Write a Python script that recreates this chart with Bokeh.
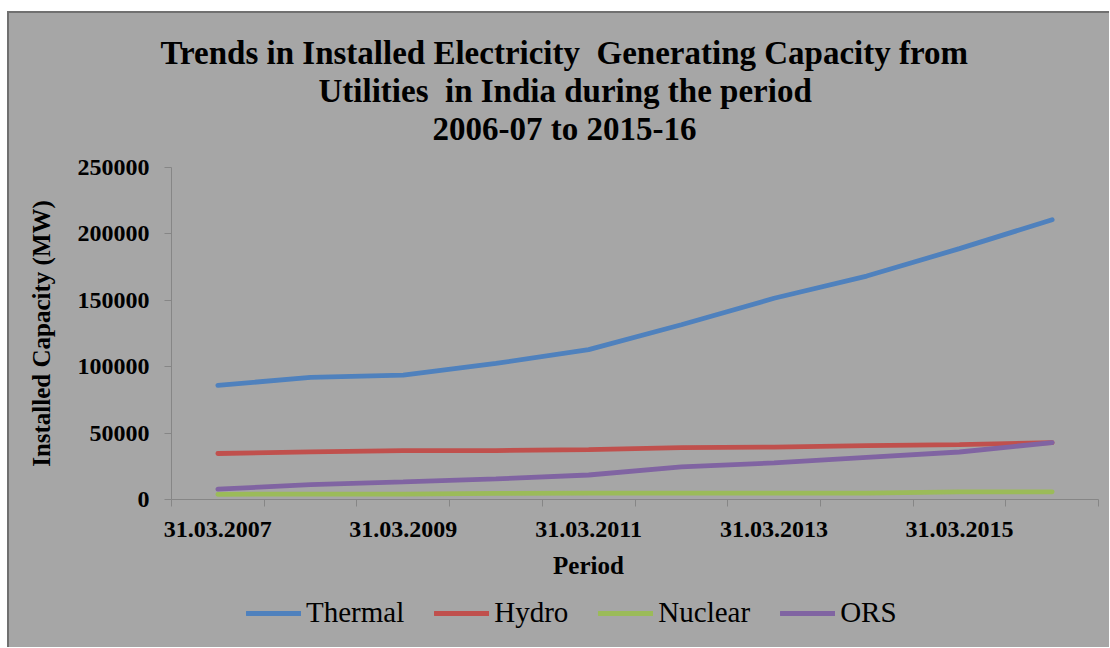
from bokeh.plotting import figure
from bokeh.layouts import column
from bokeh.models import (Range1d, FixedTicker, NumeralTickFormatter, Label, Title,
                          Legend, LegendItem, ColumnDataSource)
from bokeh.embed import file_html
from bokeh.resources import INLINE

# ---- data ----
periods = ["31.03.2007", "31.03.2008", "31.03.2009", "31.03.2010", "31.03.2011",
           "31.03.2012", "31.03.2013", "31.03.2014", "31.03.2015", "31.03.2016"]
thermal = [86015, 91907, 93725, 102454, 112824, 131603, 151530, 168255, 188898, 210675]
hydro = [34654, 35909, 36878, 36863, 37567, 38990, 39491, 40531, 41267, 42783]
nuclear = [3900, 4120, 4120, 4560, 4780, 4780, 4780, 4780, 5780, 5780]
ors = [7761, 11125, 13242, 15521, 18455, 24503, 27542, 31692, 35777, 42849]
series_names = ["Thermal", "Hydro", "Nuclear", "ORS"]
series_values = [thermal, hydro, nuclear, ors]
series_colors = ["#4F81BD", "#C0504D", "#9BBB59", "#8064A2"]
y_ticks = [0, 50000, 100000, 150000, 200000, 250000]
title_lines = ["Trends in Installed Electricity\u00a0 Generating Capacity from",
               "Utilities\u00a0 in India during the period",
               "2006-07 to 2015-16"]
title_offsets = [-11, 147, 261]
x_title = "Period"
y_title = "Installed Capacity (MW)"

BG = "#A6A6A6"
SERIF = "Liberation Serif"
W = 1100
H_MAIN, H_BOT = 532, 102
FRAME_W = W - 162 - 11

# ---- main chart ----
idx = list(range(len(periods)))
src = ColumnDataSource(dict(x=idx, Thermal=thermal, Hydro=hydro, Nuclear=nuclear, ORS=ors))

p = figure(width=W, height=H_MAIN, output_backend="svg", toolbar_location=None,
           x_range=Range1d(-0.5, len(periods) - 0.5), y_range=Range1d(0, 250000),
           min_border_left=162, min_border_right=11, min_border_top=154, min_border_bottom=46)
p.background_fill_color = BG
p.border_fill_color = BG
p.outline_line_color = None
p.xgrid.visible = False
p.ygrid.visible = False

for name, col in zip(series_names, series_colors):
    p.line("x", name, source=src, line_color=col, line_width=4.8, line_cap="round")

xa = p.xaxis[0]
xa.ticker = FixedTicker(ticks=[i for i in idx if i % 2 == 0],
                        minor_ticks=[i - 0.5 for i in range(len(periods) + 1)])
xa.major_label_overrides = {i: periods[i] for i in idx if i % 2 == 0}
xa.major_tick_out = 0
xa.major_tick_in = 0
xa.minor_tick_out = 7
xa.minor_tick_in = 0
xa.minor_tick_line_color = "#868686"
xa.axis_line_color = "#868686"
xa.major_label_text_font = SERIF
xa.major_label_text_font_style = "bold"
xa.major_label_text_font_size = "24px"
xa.major_label_text_color = "black"
xa.major_label_standoff = 15

ya = p.yaxis[0]
ya.ticker = FixedTicker(ticks=y_ticks)
ya.formatter = NumeralTickFormatter(format="0")
ya.minor_tick_line_color = None
ya.major_tick_out = 7
ya.major_tick_in = 0
ya.major_tick_line_color = "#868686"
ya.axis_line_color = "#868686"
ya.major_label_text_font = SERIF
ya.major_label_text_font_style = "bold"
ya.major_label_text_font_size = "24px"
ya.major_label_text_color = "black"
ya.major_label_standoff = 15
ya.axis_label = y_title
ya.axis_label_text_font = SERIF
ya.axis_label_text_font_style = "bold"
ya.axis_label_text_font_size = "25px"
ya.axis_label_text_color = "black"
ya.axis_label_standoff = 20

# titles above the plot area (first added sits closest to the frame)
p.add_layout(Title(text="\u00a0", text_font_size="17px", standoff=0,
                   text_color=BG), "above")
for line, off in reversed(list(zip(title_lines, title_offsets))):
    p.add_layout(Title(text=line, align="left", offset=off, text_font=SERIF,
                       text_font_style="bold", text_font_size="33px",
                       text_color="black", standoff=0), "above")

# ---- bottom block: x title and legend ----
bot = figure(width=W, height=H_BOT, output_backend="svg", toolbar_location=None,
             x_range=Range1d(0, FRAME_W), y_range=Range1d(0, H_BOT),
             x_axis_type=None, y_axis_type=None, min_border=0)
bot.background_fill_color = BG
bot.border_fill_color = BG
bot.outline_line_color = None
bot.xgrid.visible = False
bot.ygrid.visible = False

bot.add_layout(Label(x=417, y=82, text=x_title, text_align="center",
                     text_baseline="alphabetic", text_font=SERIF,
                     text_font_style="bold", text_font_size="25px", text_color="black"))
# legend keys: the series drawn again here, far outside this strip's visible range
keys = [bot.line(x=idx, y=vals, line_color=c, line_width=4.8, line_cap="round")
        for vals, c in zip(series_values, series_colors)]
legend = Legend(items=[LegendItem(label=n, renderers=[r]) for n, r in zip(series_names, keys)],
                orientation="horizontal", location=(75, 18),
                glyph_width=55, glyph_height=30, label_height=30, label_standoff=5, spacing=30,
                label_text_font=SERIF, label_text_font_size="29px", label_text_color="black",
                border_line_color=None, background_fill_alpha=0, padding=0, margin=0)
bot.add_layout(legend, "center")

layout = column(p, bot, spacing=0)
layout.styles = {"margin-left": "7px", "margin-top": "11px", "background-color": BG,
                 "border-left": "2px solid #707070", "border-top": "2px solid #707070"}

open("out.html", "w").write(file_html(layout, INLINE))
